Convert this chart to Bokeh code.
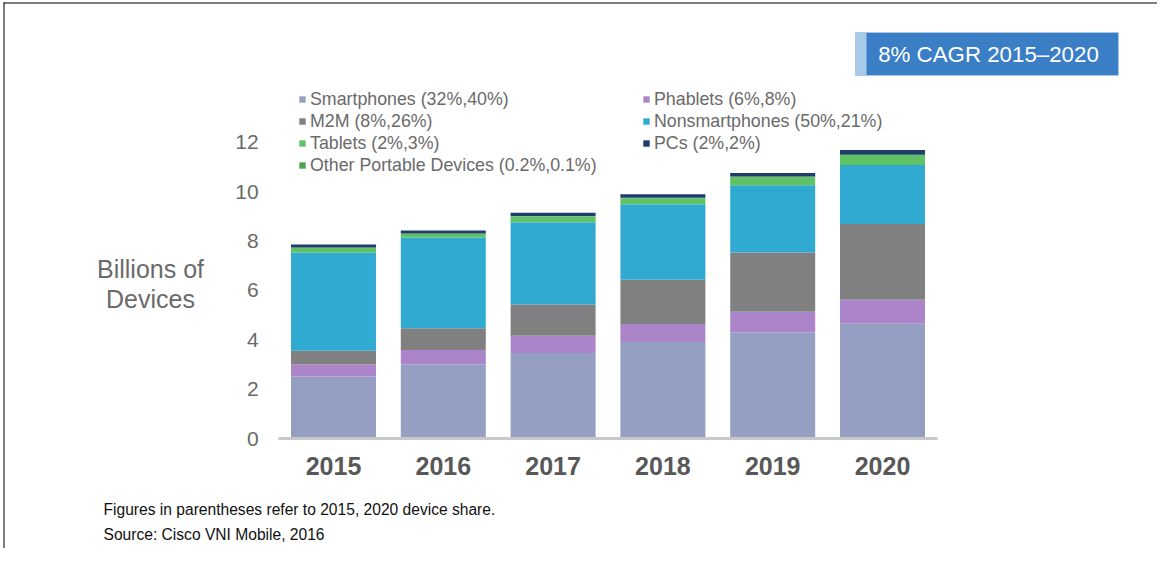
from bokeh.plotting import figure
from bokeh.models import (ColumnDataSource, Range1d, FixedTicker, BasicTickFormatter,
                          Legend, LegendItem, Label, BoxAnnotation)
from bokeh.embed import file_html
from bokeh.resources import INLINE

# ---------------- data ----------------
years = ["2015", "2016", "2017", "2018", "2019", "2020"]
smartphones = [2.51, 3.00, 3.47, 3.91, 4.30, 4.67]
phablets = [0.49, 0.59, 0.70, 0.73, 0.84, 0.95]
m2m = [0.56, 0.88, 1.26, 1.80, 2.40, 3.07]
nonsmartphones = [3.98, 3.68, 3.34, 3.06, 2.73, 2.40]
tablets = [0.18, 0.14, 0.23, 0.24, 0.33, 0.40]
other_portable = [0.02, 0.02, 0.02, 0.02, 0.02, 0.01]
pcs = [0.12, 0.12, 0.13, 0.14, 0.14, 0.19]

series_keys = ["smartphones", "phablets", "m2m", "nonsmartphones",
               "tablets", "other_portable", "pcs"]
series_labels = {
    "smartphones": "Smartphones (32%,40%)",
    "phablets": "Phablets (6%,8%)",
    "m2m": "M2M (8%,26%)",
    "nonsmartphones": "Nonsmartphones (50%,21%)",
    "tablets": "Tablets (2%,3%)",
    "pcs": "PCs (2%,2%)",
    "other_portable": "Other Portable Devices (0.2%,0.1%)",
}
y_ticks = [0, 2, 4, 6, 8, 10, 12]
y_label_lines = ["Billions of", "Devices"]
badge_text = "8% CAGR 2015\u20132020"
footnotes = ["Figures in parentheses refer to 2015, 2020 device share.",
             "Source: Cisco VNI Mobile, 2016"]

# ---------------- style / layout ----------------
colors = {
    "smartphones": "#959fc1",
    "phablets": "#ab84c9",
    "m2m": "#808080",
    "nonsmartphones": "#31aad1",
    "tablets": "#5fc264",
    "other_portable": "#4aa55a",
    "pcs": "#1f3e6c",
}
FONT = "Liberation Sans"
GREY = "#6a6a6a"

W, H = 1157, 548          # canvas == frame
PX_PER_CAT = 109.8        # pixels per year slot
FIRST_CENTER_PX = 333.0   # pixel centre of first bar
PX_PER_UNIT = 24.67       # pixels per billion
ZERO_PX = 438.0           # pixel row of value 0

year_nums = [int(y) for y in years]
x0 = year_nums[0]
x_start = x0 - FIRST_CENTER_PX / PX_PER_CAT
x_end = x0 + (W - FIRST_CENTER_PX) / PX_PER_CAT
y_start = -(H - ZERO_PX) / PX_PER_UNIT
y_end = ZERO_PX / PX_PER_UNIT

source = ColumnDataSource(dict(
    year=year_nums, smartphones=smartphones, phablets=phablets, m2m=m2m,
    nonsmartphones=nonsmartphones, tablets=tablets,
    other_portable=other_portable, pcs=pcs))

p = figure(width=W, height=H,
           x_range=Range1d(x_start, x_end), y_range=Range1d(y_start, y_end),
           output_backend="svg", toolbar_location=None, title=None,
           min_border=0)
p.outline_line_color = None
p.xgrid.visible = False
p.ygrid.visible = False
p.background_fill_color = "white"
p.border_fill_color = "white"

renderers = p.vbar_stack(series_keys, x="year", width=0.774, source=source,
                         fill_color=[colors[k] for k in series_keys],
                         line_color=None)
rmap = dict(zip(series_keys, renderers))

# axes (fixed inside the frame)
half = 0.5
p.xaxis.fixed_location = 0
p.xaxis.bounds = (x0 - half, year_nums[-1] + half)
p.xaxis.ticker = FixedTicker(ticks=year_nums)
p.xaxis.formatter = BasicTickFormatter(use_scientific=False)
p.xaxis.axis_line_color = "#c8c8c8"
p.xaxis.axis_line_width = 3
p.xaxis.major_tick_line_color = None
p.xaxis.minor_tick_line_color = None
p.xaxis.major_tick_out = 0
p.xaxis.major_label_standoff = 18
p.xaxis.major_label_text_font = FONT
p.xaxis.major_label_text_font_size = "25px"
p.xaxis.major_label_text_font_style = "bold"
p.xaxis.major_label_text_color = "#585858"

p.yaxis.fixed_location = x0 - half
p.yaxis.bounds = (y_ticks[0], y_ticks[-1])
p.yaxis.ticker = FixedTicker(ticks=y_ticks)
p.yaxis.axis_line_color = None
p.yaxis.major_tick_line_color = None
p.yaxis.minor_tick_line_color = None
p.yaxis.major_tick_out = 0
p.yaxis.major_label_standoff = 20
p.yaxis.major_label_text_font = FONT
p.yaxis.major_label_text_font_size = "21px"
p.yaxis.major_label_text_color = GREY

# legends (two columns)
def make_legend(keys, loc):
    lg = Legend(items=[LegendItem(label=series_labels[k], renderers=[rmap[k]]) for k in keys],
                location=loc, orientation="vertical",
                glyph_width=8, glyph_height=8, label_standoff=4,
                label_height=22, spacing=0, padding=0, margin=0,
                border_line_color=None, background_fill_alpha=0,
                label_text_font=FONT, label_text_font_size="17.8px",
                label_text_color=GREY)
    p.add_layout(lg)

make_legend(["smartphones", "m2m", "tablets", "other_portable"], (298, 372))
make_legend(["phablets", "nonsmartphones", "pcs"], (642, 394))

def scr(**kw):
    return dict(x_units="screen", y_units="screen", **kw)

# y axis title
for i, t in enumerate(y_label_lines):
    p.add_layout(Label(**scr(x=150, y=280 - 30 * i), text=t,
                       text_align="center", text_baseline="middle",
                       text_font=FONT, text_font_size="25px", text_color=GREY))

# CAGR badge
def sbox(l, r, b, t, **kw):
    return BoxAnnotation(left=l, right=r, bottom=b, top=t,
                         left_units="screen", right_units="screen",
                         bottom_units="screen", top_units="screen", **kw)

p.add_layout(sbox(855, 1118, 473, 516, fill_color="#3a7ec5", fill_alpha=1,
                  line_color="#c3daf0", line_width=1))
p.add_layout(sbox(855, 866, 473, 516, fill_color="#a9cbe9", fill_alpha=1,
                  line_color=None))
p.add_layout(Label(**scr(x=988, y=494), text=badge_text,
                   text_align="center", text_baseline="middle",
                   text_font=FONT, text_font_size="22.3px", text_color="white"))

# footnotes
for i, t in enumerate(footnotes):
    p.add_layout(Label(**scr(x=103, y=39 - 25 * i), text=t,
                       text_align="left", text_baseline="middle",
                       text_font=FONT, text_font_size="15.6px", text_color="#111111"))

# page border lines (top and left)
p.add_layout(sbox(3, W, 545, 546, fill_color="black", fill_alpha=1, line_color=None))
p.add_layout(sbox(3, 4, 0, 546, fill_color="black", fill_alpha=1, line_color=None))

open("out.html", "w").write(file_html(p, INLINE))
